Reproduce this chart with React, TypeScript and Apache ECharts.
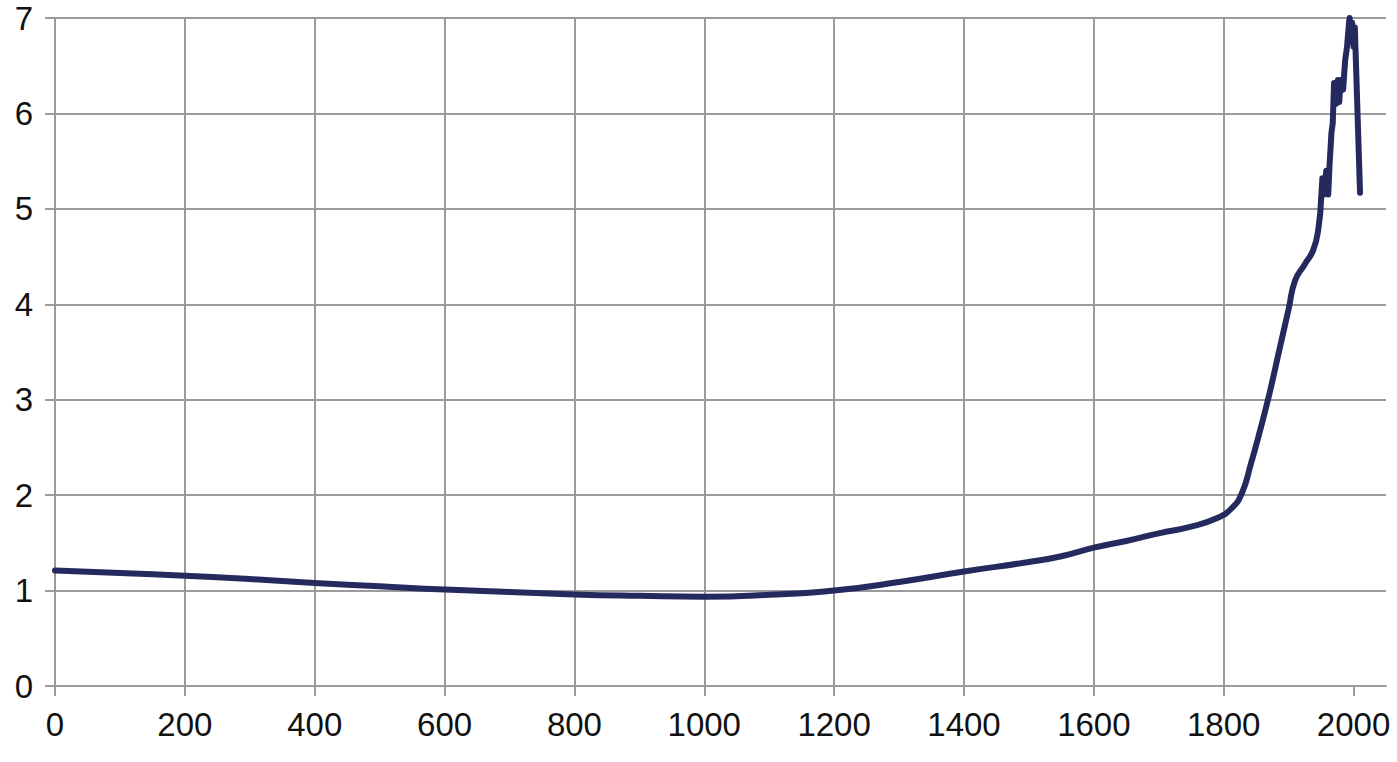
import React, { useEffect, useRef } from "react";
import * as echarts from "echarts";

// Long-run smooth trend (year, value)
const trendYears = [0, 100, 200, 300, 400, 500, 600, 700, 800, 900, 1000, 1100, 1200, 1300, 1400, 1500, 1550, 1600, 1650, 1700, 1750, 1790, 1812, 1828, 1842, 1855, 1870, 1885, 1900, 1910, 1925, 1938, 1946, 1950];
const trendValues = [1.21, 1.185, 1.155, 1.12, 1.08, 1.045, 1.01, 0.985, 0.96, 0.945, 0.935, 0.955, 1.0, 1.09, 1.2, 1.3, 1.36, 1.45, 1.52, 1.6, 1.67, 1.76, 1.86, 2.02, 2.33, 2.65, 3.05, 3.5, 3.95, 4.25, 4.42, 4.57, 4.8, 5.1];

// Recent volatile period (year, value)
const recentYears = [1950, 1952, 1955, 1958, 1961, 1963, 1966, 1968, 1970, 1973, 1976, 1978, 1980, 1984, 1987, 1990, 1993, 1994, 1996, 1998, 2000, 2002, 2010];
const recentValues = [5.1, 5.32, 5.15, 5.4, 5.15, 5.45, 5.8, 5.9, 6.32, 6.1, 6.35, 6.12, 6.35, 6.25, 6.55, 6.7, 6.95, 7.0, 6.75, 6.95, 6.7, 6.9, 5.17];

const xTicks = [0, 200, 400, 600, 800, 1000, 1200, 1400, 1600, 1800, 2000];

const LINE_COLOR = "#252a5e";
const GRID_COLOR = "#9b9b9b";
const FONT = "'Liberation Sans', Arial, Helvetica, sans-serif";

export default function App() {
  const ref = useRef<HTMLDivElement>(null);

  useEffect(() => {
    if (!ref.current) return;
    const chart = echarts.init(ref.current, undefined, { renderer: "svg" });
    const trend = trendYears.map((y, i) => [y, trendValues[i]]);
    const recent = recentYears.map((y, i) => [y, recentValues[i]]);
    chart.setOption({
      animation: false,
      backgroundColor: "#ffffff",
      grid: {
        left: 55,
        right: 11,
        top: 18,
        bottom: 76,
        containLabel: false,
        outerBoundsMode: "none",
      },
      xAxis: {
        type: "value",
        min: 0,
        max: 2050,
        interval: 200,
        axisLine: { show: true, lineStyle: { color: GRID_COLOR, width: 2 } },
        axisTick: {
          show: true,
          length: 10,
          customValues: xTicks,
          lineStyle: { color: GRID_COLOR, width: 2 },
        },
        axisLabel: {
          customValues: xTicks,
          formatter: (v: number) => String(v),
          margin: 22,
          color: "#111111",
          fontSize: 33,
          fontFamily: FONT,
        },
        splitLine: {
          show: true,
          showMaxLine: false,
          lineStyle: { color: GRID_COLOR, width: 2 },
        },
      },
      yAxis: {
        type: "value",
        min: 0,
        max: 7,
        interval: 1,
        axisLine: { show: true, lineStyle: { color: GRID_COLOR, width: 2 } },
        axisTick: { show: true, length: 10, lineStyle: { color: GRID_COLOR, width: 2 } },
        axisLabel: {
          formatter: (v: number) => String(v),
          margin: 22,
          color: "#111111",
          fontSize: 33,
          fontFamily: FONT,
        },
        splitLine: { show: true, lineStyle: { color: GRID_COLOR, width: 2 } },
      },
      series: [
        {
          type: "line",
          data: trend,
          smooth: 0.5,
          showSymbol: false,
          lineStyle: { color: LINE_COLOR, width: 6, cap: "round", join: "round" },
        },
        {
          type: "line",
          data: recent,
          smooth: false,
          showSymbol: false,
          lineStyle: { color: LINE_COLOR, width: 6, cap: "round", join: "round" },
        },
      ],
    });
    return () => chart.dispose();
  }, []);

  return (
    <div
      ref={ref}
      style={{ position: "absolute", left: 0, top: 0, width: 1397, height: 762 }}
    />
  );
}
